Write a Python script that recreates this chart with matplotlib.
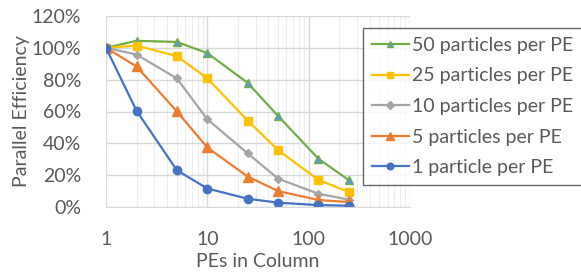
import numpy as np
import matplotlib.pyplot as plt
from matplotlib.ticker import FuncFormatter, LogLocator, NullFormatter

pes = [1, 2, 5, 10, 25, 50, 125, 250]
eff_50 = [100, 104.4, 103.7, 96.7, 78.0, 57.1, 30.3, 16.8]
eff_25 = [100, 101.4, 94.8, 80.8, 54.3, 35.7, 17.0, 9.4]
eff_10 = [100, 95.8, 80.8, 55.1, 33.7, 17.8, 8.3, 4.6]
eff_5 = [100, 88.3, 60.1, 37.4, 19.1, 10.0, 4.4, 3.1]
eff_1 = [100, 60.5, 23.1, 11.6, 5.2, 2.7, 1.2, 0.8]

labels = ["50 particles per PE", "25 particles per PE", "10 particles per PE",
          "5 particles per PE", "1 particle per PE"]

plt.rcParams['font.family'] = ['Lato', 'DejaVu Sans']
txt = '#595959'
fs = 14

fig = plt.figure(figsize=(5.81, 2.75), dpi=100)
ax = fig.add_axes([106/581, 1 - 207/275, (410 - 106)/581, (207 - 16)/275])

ax.plot(pes, eff_50, color='#70AD47', marker='^', ms=6, mfc='#5B9BD5', mec='#70AD47', lw=1.6, label=labels[0])
ax.plot(pes, eff_25, color='#FFC000', marker='s', ms=6, lw=1.6, label=labels[1])
ax.plot(pes, eff_10, color='#A5A5A5', marker='D', ms=4.5, lw=1.6, label=labels[2])
ax.plot(pes, eff_5, color='#ED7D31', marker='^', ms=6.5, lw=1.6, label=labels[3])
ax.plot(pes, eff_1, color='#4472C4', marker='o', ms=6, lw=1.6, label=labels[4])

ax.set_xscale('log')
ax.set_xlim(1, 1000)
ax.set_ylim(0, 120)
ax.set_yticks(np.arange(0, 121, 20))
ax.yaxis.set_major_formatter(FuncFormatter(lambda v, p: f"{int(v)}%"))
ax.xaxis.set_major_formatter(FuncFormatter(lambda v, p: f"{int(v)}"))
ax.xaxis.set_minor_locator(LogLocator(base=10, subs=np.arange(2, 10)))
ax.xaxis.set_minor_formatter(NullFormatter())

ax.grid(True, which='major', color='#D9D9D9', lw=1)
ax.grid(True, which='minor', axis='x', color='#EDEDED', lw=0.8)
ax.set_axisbelow(True)
for s in ['top', 'right', 'left']:
    ax.spines[s].set_visible(False)
ax.spines['bottom'].set_color('#D9D9D9')
ax.tick_params(axis='y', which='both', length=0, labelsize=fs, colors=txt, pad=18)
ax.tick_params(axis='x', which='both', length=0, labelsize=fs, colors=txt, pad=17)

ax.set_xlabel("PEs in Column", fontsize=fs, color=txt, labelpad=4)
ax.set_ylabel("Parallel Efficiency", fontsize=fs, color=txt, labelpad=1)

leg = ax.legend(loc='upper left', bbox_to_anchor=(363/581, 1 - 28/275), bbox_transform=fig.transFigure,
                fontsize=fs, frameon=True, fancybox=False, edgecolor='#404040',
                handlelength=1.9, handletextpad=0.15, labelspacing=0.7, borderpad=0.45,
                borderaxespad=0, markerscale=0.8)
leg.get_frame().set_linewidth(1.0)
for t in leg.get_texts():
    t.set_color(txt)

fig.savefig('out.png', dpi=100)
